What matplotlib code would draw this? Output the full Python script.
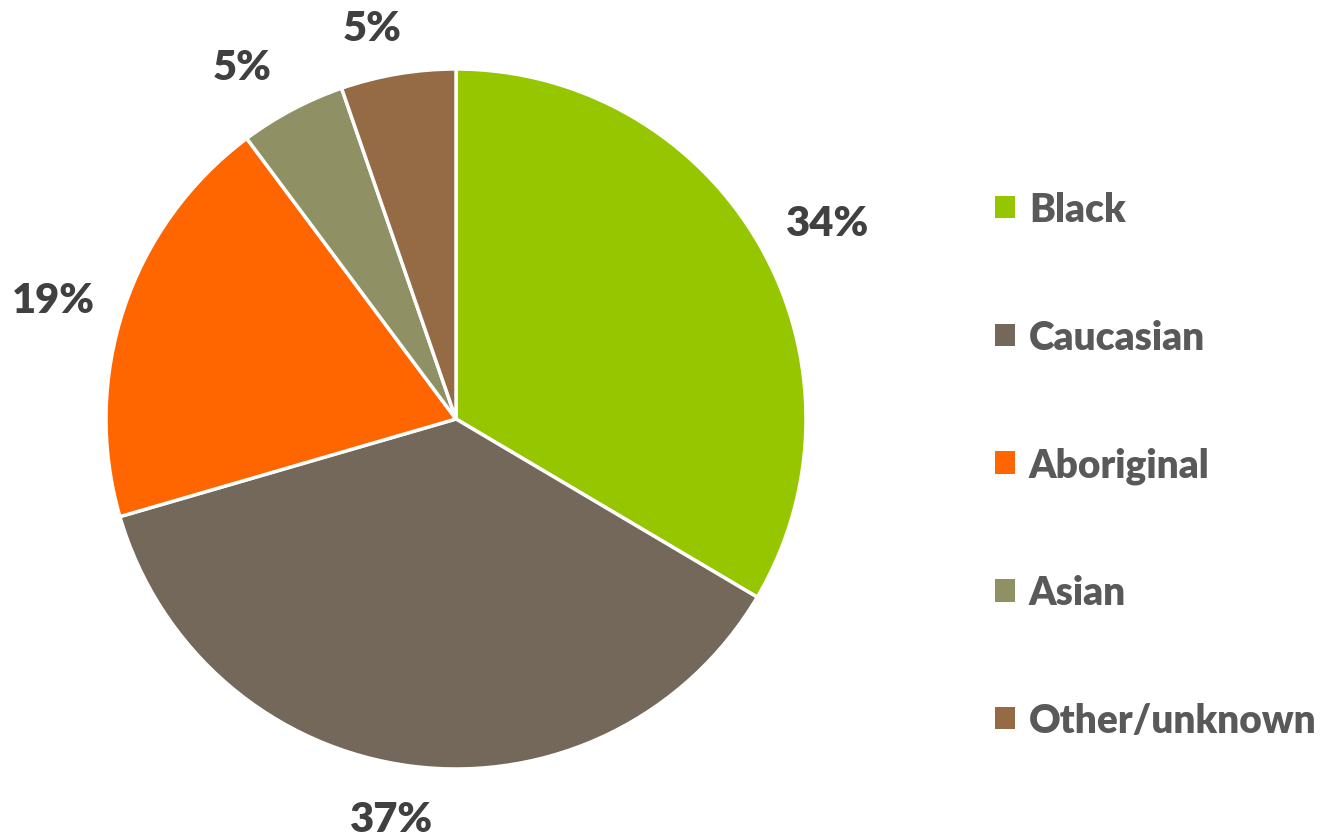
import matplotlib
matplotlib.use("Agg")
import matplotlib.pyplot as plt
import numpy as np

categories = ["Black", "Caucasian", "Aboriginal", "Asian", "Other/unknown"]
shares = [33.5, 37.0, 19.3, 4.9, 5.3]
pct_labels = ["34%", "37%", "19%", "5%", "5%"]
colors = ["#95C600", "#736859", "#FF6600", "#8F9164", "#956B45"]

plt.rcParams['font.family'] = ['Lato', 'DejaVu Sans']

W, H = 1330, 837
fig = plt.figure(figsize=(W / 100, H / 100), dpi=100)
ax = fig.add_axes([0, 0, 1, 1])

cx, cy, R = 456, H - 420, 350
wedges, _ = ax.pie(shares, colors=colors, startangle=90, counterclock=False,
                   center=(cx, cy), radius=R, frame=True,
                   wedgeprops=dict(edgecolor='white', linewidth=2.5))
ax.set_xlim(0, W)
ax.set_ylim(0, H)
ax.set_aspect('equal')
ax.axis('off')

# label placement (radius factor, angle tweak in degrees)
label_r = [1.199, 1.157, 1.200, 1.177, 1.142]
label_da = [-1.9, -2.0, 2.05, 3.4, 2.5]
for w, lab, f, da in zip(wedges, pct_labels, label_r, label_da):
    ang = np.deg2rad((w.theta1 + w.theta2) / 2 + da)
    ax.text(cx + f * R * np.cos(ang), cy + f * R * np.sin(ang), lab,
            ha='center', va='center', fontsize=30, fontweight='heavy', color='#404040')

leg = ax.legend(wedges, categories, loc='upper left', bbox_to_anchor=(995 / W, 1 - 192 / H),
                frameon=False, fontsize=28, labelspacing=2.33, handlelength=0.51,
                handleheight=0.51, handletextpad=0.36, borderpad=0, borderaxespad=0)
for t in leg.get_texts():
    t.set_color('#595959')
    t.set_fontweight('heavy')
for h in leg.legend_handles:
    h.set_edgecolor('none')

fig.savefig("out.png", dpi=100)
